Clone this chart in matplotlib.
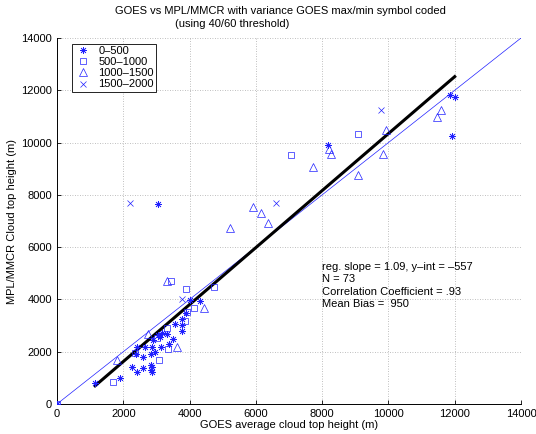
import numpy as np
import matplotlib
matplotlib.use("Agg")
import matplotlib.pyplot as plt

plt.rcParams["font.family"] = ["Liberation Sans", "DejaVu Sans"]
plt.rcParams["font.size"] = 8

# 0-500 variance (asterisks)
g1_x = [0, 11845, 12006, 11925, 8181, 3034, 4025, 4326, 3885, 3775, 3565, 3775,
        3775, 3313, 3154, 3103, 2893, 3494, 3374, 3144, 2873, 2643, 2413, 2383,
        2593, 2824, 2253, 2423, 2593, 2824, 2873, 2824, 2873, 1903, 1152, 3044,
        2950]
g1_y = [0, 11833, 11733, 10241, 9920, 7651, 3979, 3940, 3468, 3240, 3060, 3010,
        2805, 2678, 2728, 2563, 2448, 2487, 2283, 2180, 2169, 2169, 2169, 1901,
        1810, 1901, 1404, 1213, 1390, 1492, 1404, 1301, 1224, 983, 815, 2640,
        2000]
# 500-1000 (squares)
g2_x = [0, 9082, 7059, 3445, 3905, 4737, 4136, 3925, 3855, 3325, 3013, 3354,
        2343, 3064, 1702]
g2_y = [0, 10316, 9514, 4717, 4411, 4488, 3685, 3507, 3163, 2907, 2525, 2116,
        1951, 1696, 842]
# 1000-1500 (triangles)
g3_x = [11595, 11465, 9922, 9842, 9072, 8221, 8261, 7711, 5918, 6158, 6368,
        5217, 3313, 4436, 2734, 3615, 1812]
g3_y = [11247, 10991, 10494, 9551, 8747, 9767, 9551, 9079, 7525, 7296, 6936,
        6720, 4717, 3673, 2678, 2169, 1683]
# 1500-2000 (x)
g4_x = [9772, 6599, 2193, 3765]
g4_y = [11260, 7705, 7689, 4017]

labels = ["0\u2013500", "500\u20131000", "1000\u20131500", "1500\u20132000"]

slope, yint = 1.09, -557
reg_x = [1150, 12000]
one_x = [0, 14000]

fig = plt.figure(figsize=(5.36, 4.34), dpi=100)
ax = fig.add_axes([0.1063, 0.0691, 0.8657, 0.8433])

blue = "#2020ff"
ax.plot(one_x, one_x, color=blue, lw=0.5, zorder=2)
ax.plot(reg_x, [slope * v + yint for v in reg_x], color="black", lw=2.2, zorder=3)

ax.plot(g1_x, g1_y, ls="none", marker=(8, 2, 0), ms=5, mec=blue, mew=0.5,
        label=labels[0], zorder=4)
ax.plot(g2_x, g2_y, ls="none", marker="s", ms=4.5, mfc="none", mec=blue,
        mew=0.5, label=labels[1], zorder=4)
ax.plot(g3_x, g3_y, ls="none", marker="^", ms=5.5, mfc="none", mec=blue,
        mew=0.5, label=labels[2], zorder=4)
ax.plot(g4_x, g4_y, ls="none", marker="x", ms=4, mec=blue, mew=0.5,
        label=labels[3], zorder=4)

ax.set_xlim(0, 14000)
ax.set_ylim(0, 14000)
ax.set_xticks(np.arange(0, 14001, 2000))
ax.set_yticks(np.arange(0, 14001, 2000))
ax.tick_params(direction="in", length=3, width=0.6)
ax.grid(True, ls=(0, (1, 2)), color="#aaaaaa", lw=0.6)
ax.spines["top"].set_visible(False)
ax.spines["right"].set_visible(False)
ax.spines["left"].set_linewidth(0.7)
ax.spines["bottom"].set_linewidth(0.7)

ax.set_xlabel("GOES average cloud top height (m)", labelpad=1)
ax.set_ylabel("MPL/MMCR Cloud top height (m)", labelpad=3)

fig.text(0.523, 0.975, "GOES vs MPL/MMCR with variance GOES max/min symbol coded",
         ha="center", va="center")
fig.text(0.433, 0.945, "(using 40/60 threshold)", ha="center", va="center")

ax.text(8000, 4530,
        "reg. slope = 1.09, y\u2013int = \u2013557\nN = 73\n"
        "Correlation Coefficient = .93\nMean Bias =  950",
        ha="left", va="center", linespacing=1.3)

leg = ax.legend(loc="upper left", bbox_to_anchor=(0.025, 0.993),
                fancybox=False, edgecolor="black", framealpha=1,
                borderpad=0.2, labelspacing=0.1, handletextpad=0.6,
                handlelength=1.6, borderaxespad=0.3)
leg.get_frame().set_linewidth(0.6)

fig.savefig("out.png", dpi=100)
